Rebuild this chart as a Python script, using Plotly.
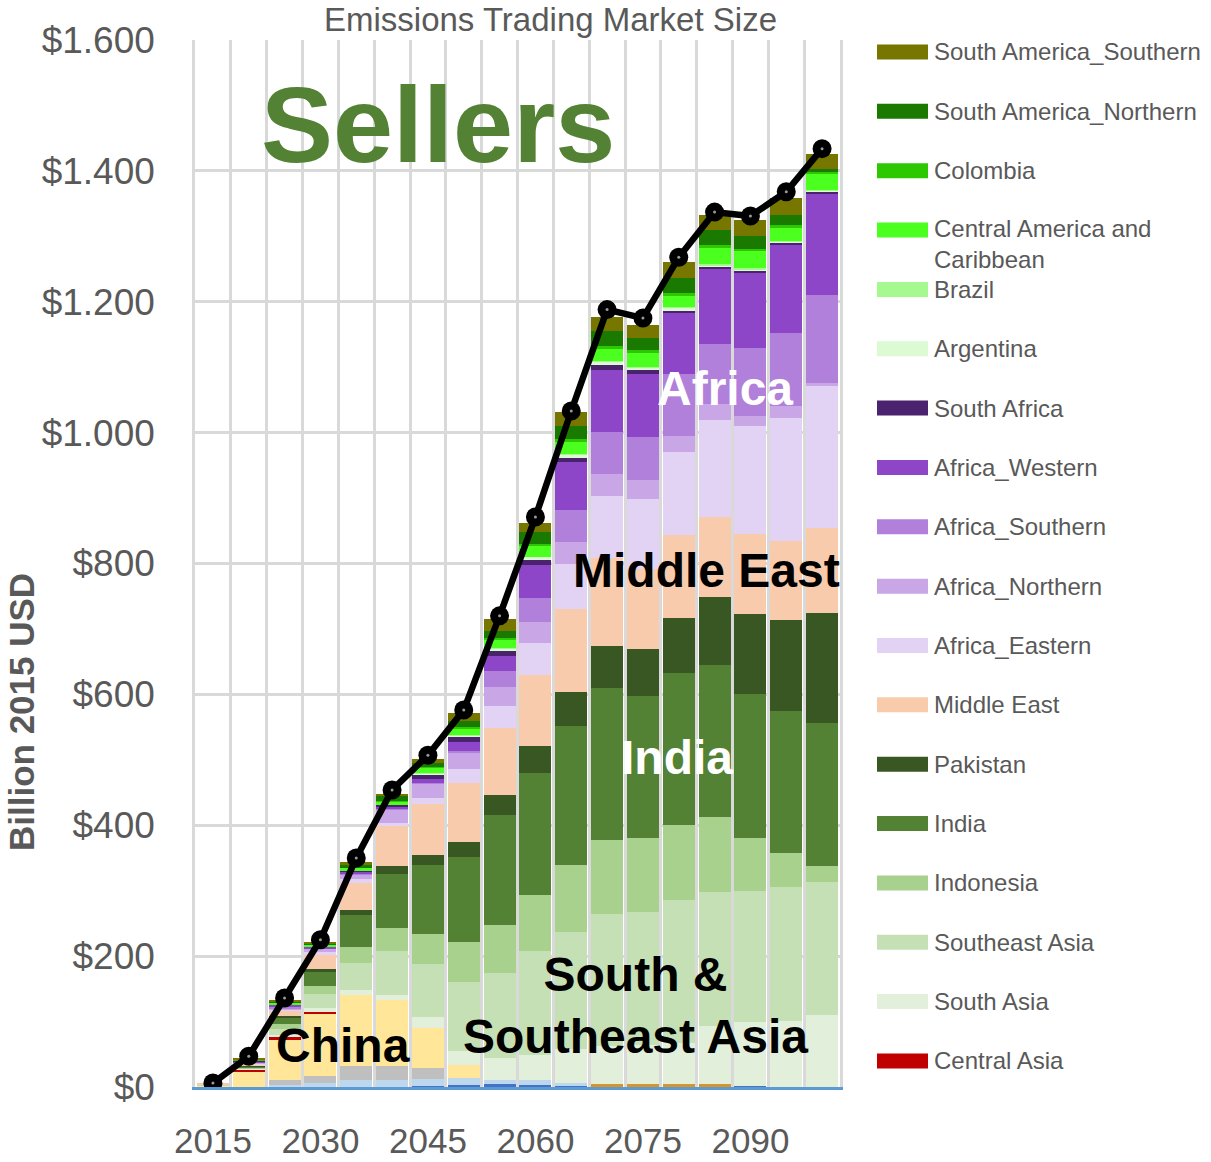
import plotly.graph_objects as go

# ---------------- data (Billion 2015 USD) ----------------
years = [2015, 2020, 2025, 2030, 2035, 2040, 2045, 2050, 2055,
         2060, 2065, 2070, 2075, 2080, 2085, 2090, 2095, 2100]
tick_years = [2015, 2030, 2045, 2060, 2075, 2090]
y_ticks = [0, 200, 400, 600, 800, 1000, 1200, 1400, 1600]
y_tick_labels = ["$" + f"{v:,}".replace(",", ".") for v in y_ticks]

# hidden (not shown in legend) bottom series
other_blue = [0, 0, 0, 0, 0, 0, 1, 3, 4, 3, 2, 1, 1, 1, 1, 2, 0, 0]
other_orange = [0, 0, 0, 0, 0, 0, 0, 0, 0, 0, 0, 3, 3, 3, 3, 0, 0, 0]
other_lightblue = [0, 0, 3, 6, 11, 11, 11, 11, 6, 8, 4, 0, 0, 0, 0, 0, 0, 0]
other_grey = [0, 0, 7, 11, 21, 21, 17, 0, 0, 0, 0, 0, 0, 0, 0, 0, 0, 0]
china = [3, 24, 63, 95, 108, 101, 61, 20, 0, 0, 0, 0, 0, 0, 0, 0, 0, 0]

central_asia = [0, 3, 3, 3, 0, 0, 0, 0, 0, 0, 0, 0, 0, 0, 0, 0, 0, 0]
south_asia = [0, 1, 4, 5, 9, 8, 17, 21, 34, 38, 52, 58, 60, 64, 89, 98, 101, 110]
southeast_asia = [1, 1, 8, 22, 41, 67, 81, 105, 130, 159, 179, 203, 203, 218, 205, 200, 205, 203]
indonesia = [0, 1, 8, 13, 24, 35, 46, 61, 73, 86, 102, 113, 113, 115, 115, 81, 52, 24]
india = [0.5, 2, 9, 22, 49, 83, 105, 131, 168, 186, 212, 232, 217, 232, 232, 220, 217, 220]
pakistan = [0, 1, 4, 3, 8, 12, 15, 23, 31, 41, 52, 64, 72, 84, 104, 122, 138, 167]
middle_east = [0.5, 2, 8, 22, 41, 61, 78, 90, 102, 108, 127, 134, 122, 127, 122, 122, 122, 130]
africa_eastern = [0, 1, 2, 4, 6, 5, 9, 21, 34, 50, 69, 95, 107, 127, 148, 165, 188, 217]
africa_northern = [0, 1, 1, 5, 6, 20, 23, 24, 29, 32, 34, 34, 29, 24, 24, 15, 17, 5]
africa_southern = [0, 0.5, 2, 1, 2, 2, 1, 4, 24, 37, 49, 64, 67, 95, 93, 105, 113, 134]
africa_western = [0, 2, 4, 2, 3, 3, 5, 13, 24, 49, 73, 95, 95, 93, 115, 115, 134, 154]
south_africa = [0, 0.5, 0.5, 0.5, 1, 2, 8, 8, 8, 9, 6, 8, 8, 3, 3, 3, 3, 5]
argentina = [0, 0, 0, 0, 0, 0, 1, 2, 3, 4, 5, 4, 2, 5, 2, 2, 2, 1]
brazil = [0, 0, 0, 0, 0, 0, 0.5, 0.5, 0.5, 0.5, 1, 1, 1, 1, 1, 1, 1, 0.5]
central_america_caribbean = [0, 1, 2, 3, 5, 5, 9, 11, 14, 17, 20, 20, 21, 18, 26, 26, 20, 24]
colombia = [0, 0.3, 0.5, 0.5, 1, 1, 1, 2, 2, 3, 3, 3, 5, 3, 3, 4, 5, 4]
south_america_northern = [0, 1, 2, 2, 3, 8, 6, 9, 11, 17, 20, 24, 18, 24, 24, 20, 15, 5]
south_america_southern = [0, 2, 2, 2, 5, 3, 5, 12, 17, 15, 21, 20, 21, 24, 23, 24, 26, 23]

total_value = [6, 47, 136, 225, 350, 454, 507, 576, 720, 871,
               1033, 1188, 1175, 1268, 1337, 1331, 1368, 1434]

# stacking order bottom -> top: (name, values, colour, in legend)
series = [
    ("Other_blue", other_blue, "#4472C4", False),
    ("Other_orange", other_orange, "#D6952B", False),
    ("Other_lightblue", other_lightblue, "#BDD7EE", False),
    ("Other_grey", other_grey, "#BFBFBF", False),
    ("China", china, "#FFE699", False),
    ("Central Asia", central_asia, "#C00000", True),
    ("South Asia", south_asia, "#E2EFDA", True),
    ("Southeast Asia", southeast_asia, "#C5E0B4", True),
    ("Indonesia", indonesia, "#A9D18E", True),
    ("India", india, "#548235", True),
    ("Pakistan", pakistan, "#385723", True),
    ("Middle East", middle_east, "#F8CBAD", True),
    ("Africa_Eastern", africa_eastern, "#E2D2F3", True),
    ("Africa_Northern", africa_northern, "#C9A6E5", True),
    ("Africa_Southern", africa_southern, "#B080DA", True),
    ("Africa_Western", africa_western, "#8E46C9", True),
    ("South Africa", south_africa, "#4A226E", True),
    ("Argentina", argentina, "#DCFAD4", True),
    ("Brazil", brazil, "#A6F98F", True),
    ("Central America and Caribbean", central_america_caribbean, "#4BFF1F", True),
    ("Colombia", colombia, "#2EC800", True),
    ("South America_Northern", south_america_northern, "#1A7A00", True),
    ("South America_Southern", south_america_southern, "#777700", True),
]

# ---------------- layout geometry (page pixels) ----------------
FIG_W, FIG_H = 1211, 1162
PL, PR, PT, PB = 195, 840, 40, 1087
FONT = "Liberation Sans, Arial, sans-serif"
GREY = "#595959"

fig = go.Figure()
for name, vals, col, _ in series:
    fig.add_trace(go.Bar(x=years, y=vals, name=name, marker_color=col,
                         marker_line_width=0, width=4.45, showlegend=False))

fig.add_trace(go.Scatter(x=years, y=total_value, mode="lines+markers", name="Total",
                         line=dict(color="black", width=6.5),
                         marker=dict(color="black", size=19),
                         showlegend=False))
fig.add_trace(go.Scatter(x=years, y=total_value, mode="markers",
                         marker=dict(color="#9a9a9a", size=3),
                         showlegend=False, hoverinfo="skip"))

# ---------------- custom legend (top series first) ----------------
def px_x(p):
    return (p - PL) / (PR - PL)

def px_y(p):
    return (PB - p) / (PB - PT)

legend_items = [s for s in series if s[3]][::-1]
shapes = []
annotations = []
for i, (name, vals, col, _) in enumerate(legend_items):
    yc = 52 + 59.35 * i
    shapes.append(dict(type="rect", xref="paper", yref="paper",
                       x0=px_x(877), x1=px_x(928), y0=px_y(yc + 7.5), y1=px_y(yc - 7.5),
                       fillcolor=col, line=dict(width=0)))
    if name == "Central America and Caribbean":
        annotations.append(dict(xref="paper", yref="paper", x=px_x(932), y=px_y(yc - 17),
                                xanchor="left", yanchor="top", align="left",
                                text="Central America and<br>Caribbean", showarrow=False,
                                font=dict(family=FONT, size=24, color=GREY)))
    else:
        annotations.append(dict(xref="paper", yref="paper", x=px_x(932), y=px_y(yc),
                                xanchor="left", yanchor="middle", text=name, showarrow=False,
                                font=dict(family=FONT, size=24, color=GREY)))

# chart title
annotations.append(dict(xref="paper", yref="paper", x=px_x(550), y=px_y(19),
                        text="Emissions Trading Market Size", showarrow=False,
                        xanchor="center", yanchor="middle",
                        font=dict(family=FONT, size=33, color=GREY)))

# y axis title
annotations.append(dict(xref="paper", yref="paper", x=px_x(21), y=px_y(712),
                        text="<b>Billion 2015 USD</b>", textangle=-90, showarrow=False,
                        xanchor="center", yanchor="middle",
                        font=dict(family=FONT, size=35, color=GREY)))

# region labels
def lab(text, x, y, size, color):
    annotations.append(dict(xref="x", yref="y", x=x, y=y, text=text, showarrow=False,
                            xanchor="center", yanchor="middle", align="center",
                            font=dict(family=FONT, size=size, color=color, weight="bold")))

lab("Sellers", 2046.4, 1471, 108, "#548235")
lab("Africa", 2086.4, 1068, 48, "white")
lab("Middle East", 2083.9, 790, 48, "black")
lab("India", 2079.7, 503, 48, "white")
lab("South &<br>Southeast Asia", 2074.0, 125, 48, "black")
lab("China", 2033.1, 64, 48, "black")

fig.update_layout(
    width=FIG_W, height=FIG_H,
    margin=dict(l=PL, r=FIG_W - PR, t=PT, b=FIG_H - PB, autoexpand=False),
    barmode="stack",
    plot_bgcolor="white", paper_bgcolor="white",
    shapes=shapes, annotations=annotations,
    showlegend=False,
)
fig.update_xaxes(
    range=[2012.5, 2102.5], tickmode="array", tickvals=tick_years,
    ticktext=[str(t) for t in tick_years], showgrid=False,
    tickfont=dict(family=FONT, size=35, color=GREY),
    ticks="", ticklabelstandoff=21,
    showline=True, linecolor="#5B9BD5", linewidth=3,
    minor=dict(tickmode="linear", tick0=2012.5, dtick=5, showgrid=True,
               gridcolor="#D9D9D9", gridwidth=2.5, ticks=""),
    zeroline=False,
)
fig.update_yaxes(
    range=[0, 1600], tickmode="array", tickvals=y_ticks, ticktext=y_tick_labels,
    showgrid=True, gridcolor="#D9D9D9", gridwidth=2.5,
    tickfont=dict(family=FONT, size=37, color=GREY), ticklabelstandoff=30,
    zeroline=False, showline=True, linecolor="#D9D9D9", linewidth=2.5, mirror=True,
)

# remove the default 8px page margin so the figure fills the window exactly
fig.write_html("out.html", config={"displayModeBar": False},
               post_script="document.body.style.margin='0px';")
